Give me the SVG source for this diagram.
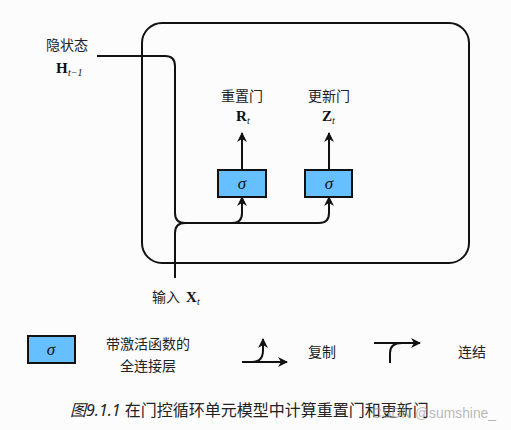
<svg xmlns="http://www.w3.org/2000/svg" width="511" height="430" viewBox="0 0 511 430">
<style>
.ln{fill:none;stroke:#111;stroke-width:2}
.box{fill:#66bfff;stroke:#111;stroke-width:2}
.cn{font-family:"Noto Sans CJK SC","Noto Sans",sans-serif;font-size:14px;fill:#222}
.m{font-family:"Liberation Serif",serif;font-weight:bold;font-size:15px;fill:#111}
.s{font-family:"Liberation Serif",serif;font-style:italic;font-size:10px;fill:#111}
.sig{font-family:"Liberation Serif",serif;font-style:italic;font-size:17px;fill:#111}
</style>
<defs>
<marker id="ah" viewBox="0 0 10 10" refX="9" refY="5" markerWidth="5" markerHeight="5" orient="auto">
<path d="M0,0 L10,5 L0,10 L3,5 z" fill="#111"/>
</marker>
</defs>
<rect width="511" height="430" fill="#fcfcfc"/>
<g id="cell">
<rect x="142" y="23" width="327" height="240" rx="20" ry="20" class="ln"/>
</g>
<g id="connectors">
<path class="ln" d="M97,56 H165 Q175,56 175,66 V213 Q175,223 185,223 H232 Q242,223 242,213 V197" marker-end="url(#ah)"/>
<path class="ln" d="M232,223 H319 Q329,223 329,213 V197" marker-end="url(#ah)"/>
<path class="ln" d="M175,278 V233 Q175,223 185,223"/>
<path class="ln" d="M242,170 V133" marker-end="url(#ah)"/>
<path class="ln" d="M329,170 V133" marker-end="url(#ah)"/>
</g>
<g id="gate-r">
<rect x="218" y="170" width="48" height="27" class="box"/>
<text x="242" y="189" class="sig" text-anchor="middle">σ</text>
<text x="242" y="101" class="cn" text-anchor="middle">重置门</text>
<text x="236" y="121" class="m">R</text><text x="247" y="124" class="s">t</text>
</g>
<g id="gate-z">
<rect x="305" y="170" width="47" height="27" class="box"/>
<text x="329" y="189" class="sig" text-anchor="middle">σ</text>
<text x="329" y="101" class="cn" text-anchor="middle">更新门</text>
<text x="322" y="121" class="m">Z</text><text x="332" y="124" class="s">t</text>
</g>
<g id="hidden-state">
<text x="67" y="50" class="cn" text-anchor="middle">隐状态</text>
<text x="56" y="73" class="m">H</text><text x="68" y="76" class="s">t−1</text>
</g>
<g id="input">
<text x="152" y="302" class="cn">输入</text>
<text x="186" y="302" class="m">X</text><text x="197" y="305" class="s">t</text>
</g>
<g id="legend-fc">
<rect x="28" y="336" width="47" height="27" class="box"/>
<text x="51" y="355" class="sig" text-anchor="middle">σ</text>
<text x="148" y="349" class="cn" text-anchor="middle">带激活函数的</text>
<text x="148" y="371" class="cn" text-anchor="middle">全连接层</text>
</g>
<g id="legend-copy">
<path class="ln" d="M242,362 H287" marker-end="url(#ah)"/>
<path class="ln" d="M252,362 Q263,362 263,350 V339" marker-end="url(#ah)"/>
<text x="322" y="357" class="cn" text-anchor="middle">复制</text>
</g>
<g id="legend-concat">
<path class="ln" d="M374,343 H420" marker-end="url(#ah)"/>
<path class="ln" d="M390,363 V353 Q390,343 402,343"/>
<text x="472" y="357" class="cn" text-anchor="middle">连结</text>
</g>
<g id="caption">
<text x="70" y="416" font-family="'Noto Sans','Noto Sans CJK SC',sans-serif" font-size="16" fill="#222"><tspan font-style="italic">图9.1.1</tspan> 在门控循环单元模型中计算重置门和更新门</text>
<text x="372" y="418" font-family="'Liberation Sans','Noto Sans CJK SC',sans-serif" font-size="15" fill="#999" fill-opacity="0.7" textLength="124" lengthAdjust="spacingAndGlyphs">CSDN @sumshine_</text>
</g>
</svg>
